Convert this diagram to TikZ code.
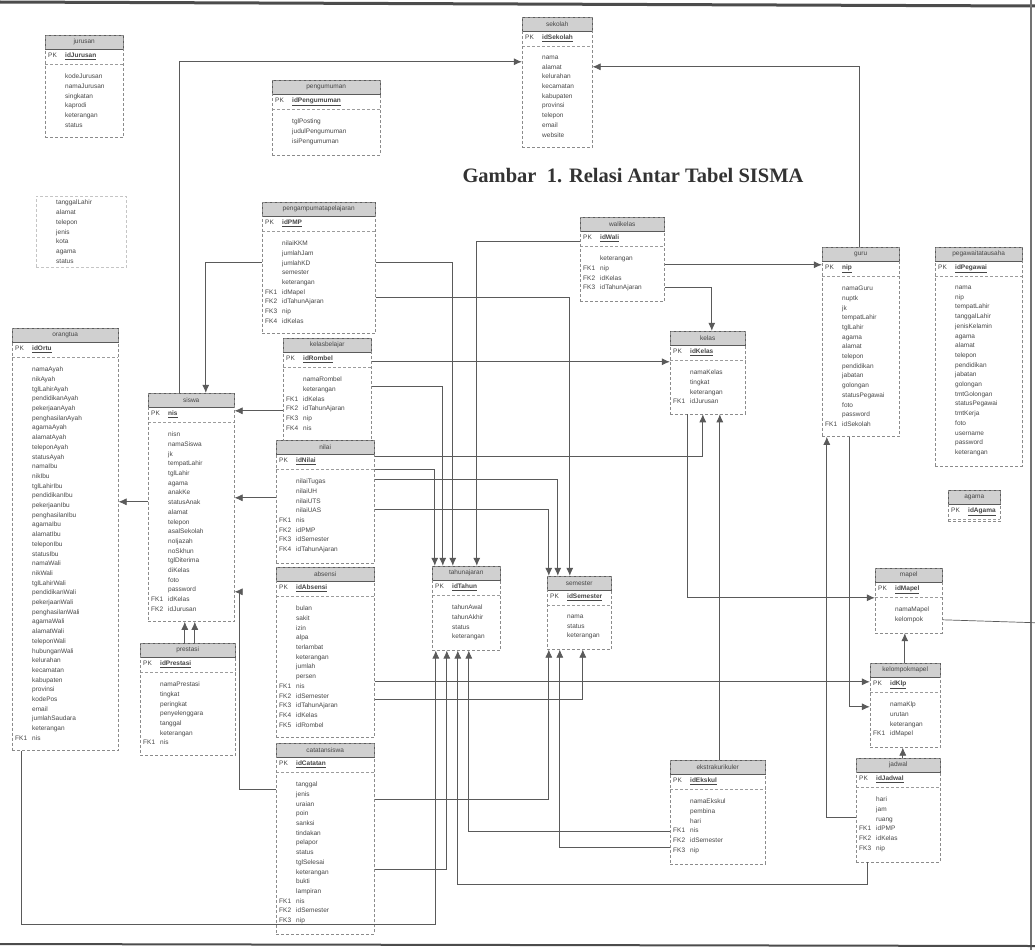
\documentclass[tikz,border=0pt]{standalone}
\usepackage{fontspec}
\setmainfont{Liberation Serif}
\newfontfamily\tabfont{Liberation Sans}
\usetikzlibrary{arrows.meta, positioning, fit, calc}
\definecolor{garis}{RGB}{90,90,90}
\definecolor{kepala}{RGB}{208,208,208}
\definecolor{teks}{RGB}{70,70,70}

\newcommand{\kol}[1]{\makebox[17pt][l]{#1}}
% #1 opsi isi, #2 nama node, #3 pojok kiri atas, #4 lebar, #5 judul, #6 kunci primer, #7 isi
\newcommand{\tabel}[7][]{%
  \pgfmathsetmacro\lbr{#4-6}
  \node[judul, minimum width=#4pt, anchor=north west] (#2) at (#3) {#5};
  \node[kunci, text width=\lbr pt, anchor=north west] (#2-pk) at (#2.south west) {\kol{PK}\underline{\textbf{#6}}};
  \node[isi, text width=\lbr pt, anchor=north west, #1] (#2-isi) at (#2-pk.south west) {#7};
  \draw[pemisah] (#2-pk.south west) -- (#2-pk.south east);
  \node[bingkai, fit=(#2)(#2-pk)(#2-isi)] (#2-box) {};
}

\begin{document}
\begin{tikzpicture}[
    x=1pt, y=-1pt,
    judul/.style={rectangle, draw=garis, fill=kepala, minimum height=14pt, inner sep=1pt, font=\tabfont\fontsize{6.5}{7}\selectfont, text=teks},
    kunci/.style={rectangle, minimum height=14pt, inner sep=3pt, font=\tabfont\fontsize{6.5}{7}\selectfont, text=teks},
    isi/.style={rectangle, inner xsep=3pt, inner ysep=10pt, align=left, font=\tabfont\fontsize{6.5}{9.7}\selectfont, text=teks},
    bingkai/.style={rectangle, draw=garis!70, densely dashed, inner sep=0pt},
    pemisah/.style={draw=garis!60, densely dashed},
    relasi/.style={draw=garis, line width=0.7pt, -{Latex[length=8pt,width=7pt]}},
    polos/.style={draw=garis, line width=0.7pt}
]
\useasboundingbox (0,0) rectangle (1035,950);
\fill[white] (0,0) rectangle (1035,950);
% tepi hasil pindai
\draw[black!70, line width=3pt] (0,2) -- (1035,6);
\draw[black!55, line width=1.5pt] (1031,0) -- (1031,950);
\draw[black!70, line width=2pt] (0,944) -- (1035,946);

% judul gambar
\node[font=\bfseries\fontsize{20.5}{24}\selectfont, text=black!80] (caption) at (633,176) {Gambar \ 1. Relasi Antar Tabel SISMA};

% tabel
\tabel{jurusan}{45,35}{78}{jurusan}{idJurusan}{\kol{}kodeJurusan\\\kol{}namaJurusan\\\kol{}singkatan\\\kol{}kaprodi\\\kol{}keterangan\\\kol{}status}
% sisa kolom yang terpotong
\node[isi, text width=84pt, anchor=north west, inner ysep=4pt] (sambung) at (36,196) {\kol{}tanggalLahir\\\kol{}alamat\\\kol{}telepon\\\kol{}jenis\\\kol{}kota\\\kol{}agama\\\kol{}status};
\node[bingkai, draw=garis!35, fit=(sambung)] (sambung-box) {};
\tabel{sekolah}{522,17}{70}{sekolah}{idSekolah}{\kol{}nama\\\kol{}alamat\\\kol{}kelurahan\\\kol{}kecamatan\\\kol{}kabupaten\\\kol{}provinsi\\\kol{}telepon\\\kol{}email\\\kol{}website}
\tabel{pengumuman}{272,80}{108}{pengumuman}{idPengumuman}{\kol{}tglPosting\\\kol{}judulPengumuman\\\kol{}isiPengumuman}
\tabel{pengampu}{262,202}{113}{pengampumatapelajaran}{idPMP}{\kol{}nilaiKKM\\\kol{}jumlahJam\\\kol{}jumlahKD\\\kol{}semester\\\kol{}keterangan\\\kol{FK1}idMapel\\\kol{FK2}idTahunAjaran\\\kol{FK3}nip\\\kol{FK4}idKelas}
\tabel{rombel}{283,338}{88}{kelasbelajar}{idRombel}{\kol{}namaRombel\\\kol{}keterangan\\\kol{FK1}idKelas\\\kol{FK2}idTahunAjaran\\\kol{FK3}nip\\\kol{FK4}nis}
\tabel{siswa}{148,393}{86}{siswa}{nis}{\kol{}nisn\\\kol{}namaSiswa\\\kol{}jk\\\kol{}tempatLahir\\\kol{}tglLahir\\\kol{}agama\\\kol{}anakKe\\\kol{}statusAnak\\\kol{}alamat\\\kol{}telepon\\\kol{}asalSekolah\\\kol{}noIjazah\\\kol{}noSkhun\\\kol{}tglDiterima\\\kol{}diKelas\\\kol{}foto\\\kol{}password\\\kol{FK1}idKelas\\\kol{FK2}idJurusan}
\tabel{ortu}{12,328}{106}{orangtua}{idOrtu}{\kol{}namaAyah\\\kol{}nikAyah\\\kol{}tglLahirAyah\\\kol{}pendidikanAyah\\\kol{}pekerjaanAyah\\\kol{}penghasilanAyah\\\kol{}agamaAyah\\\kol{}alamatAyah\\\kol{}teleponAyah\\\kol{}statusAyah\\\kol{}namaIbu\\\kol{}nikIbu\\\kol{}tglLahirIbu\\\kol{}pendidikanIbu\\\kol{}pekerjaanIbu\\\kol{}penghasilanIbu\\\kol{}agamaIbu\\\kol{}alamatIbu\\\kol{}teleponIbu\\\kol{}statusIbu\\\kol{}namaWali\\\kol{}nikWali\\\kol{}tglLahirWali\\\kol{}pendidikanWali\\\kol{}pekerjaanWali\\\kol{}penghasilanWali\\\kol{}agamaWali\\\kol{}alamatWali\\\kol{}teleponWali\\\kol{}hubunganWali\\\kol{}kelurahan\\\kol{}kecamatan\\\kol{}kabupaten\\\kol{}provinsi\\\kol{}kodePos\\\kol{}email\\\kol{}jumlahSaudara\\\kol{}keterangan\\\kol{FK1}nis}
\tabel{nilai}{276,440}{98}{nilai}{idNilai}{\kol{}nilaiTugas\\\kol{}nilaiUH\\\kol{}nilaiUTS\\\kol{}nilaiUAS\\\kol{FK1}nis\\\kol{FK2}idPMP\\\kol{FK3}idSemester\\\kol{FK4}idTahunAjaran}
\tabel{absensi}{276,567}{98}{absensi}{idAbsensi}{\kol{}bulan\\\kol{}sakit\\\kol{}izin\\\kol{}alpa\\\kol{}terlambat\\\kol{}keterangan\\\kol{}jumlah\\\kol{}persen\\\kol{FK1}nis\\\kol{FK2}idSemester\\\kol{FK3}idTahunAjaran\\\kol{FK4}idKelas\\\kol{FK5}idRombel}
\tabel{prestasi}{140,643}{95}{prestasi}{idPrestasi}{\kol{}namaPrestasi\\\kol{}tingkat\\\kol{}peringkat\\\kol{}penyelenggara\\\kol{}tanggal\\\kol{}keterangan\\\kol{FK1}nis}
\tabel{catatan}{276,743}{98}{catatansiswa}{idCatatan}{\kol{}tanggal\\\kol{}jenis\\\kol{}uraian\\\kol{}poin\\\kol{}sanksi\\\kol{}tindakan\\\kol{}pelapor\\\kol{}status\\\kol{}tglSelesai\\\kol{}keterangan\\\kol{}bukti\\\kol{}lampiran\\\kol{FK1}nis\\\kol{FK2}idSemester\\\kol{FK3}nip}
\tabel{walikelas}{580,217}{84}{walikelas}{idWali}{\kol{}keterangan\\\kol{FK1}nip\\\kol{FK2}idKelas\\\kol{FK3}idTahunAjaran}
\tabel{tahunajaran}{432,566}{68}{tahunajaran}{idTahun}{\kol{}tahunAwal\\\kol{}tahunAkhir\\\kol{}status\\\kol{}keterangan}
\tabel{semester}{547,576}{64}{semester}{idSemester}{\kol{}nama\\\kol{}status\\\kol{}keterangan}
\tabel{kelas}{670,331}{75}{kelas}{idKelas}{\kol{}namaKelas\\\kol{}tingkat\\\kol{}keterangan\\\kol{FK1}idJurusan}
\tabel{guru}{822,247}{77}{guru}{nip}{\kol{}namaGuru\\\kol{}nuptk\\\kol{}jk\\\kol{}tempatLahir\\\kol{}tglLahir\\\kol{}agama\\\kol{}alamat\\\kol{}telepon\\\kol{}pendidikan\\\kol{}jabatan\\\kol{}golongan\\\kol{}statusPegawai\\\kol{}foto\\\kol{}password\\\kol{FK1}idSekolah}
\tabel{pegawai}{935,247}{87}{pegawaitatausaha}{idPegawai}{\kol{}nama\\\kol{}nip\\\kol{}tempatLahir\\\kol{}tanggalLahir\\\kol{}jenisKelamin\\\kol{}agama\\\kol{}alamat\\\kol{}telepon\\\kol{}pendidikan\\\kol{}jabatan\\\kol{}golongan\\\kol{}tmtGolongan\\\kol{}statusPegawai\\\kol{}tmtKerja\\\kol{}foto\\\kol{}username\\\kol{}password\\\kol{}keterangan}
\tabel[inner ysep=1pt]{agama}{948,490}{52}{agama}{idAgama}{}
\tabel{mapel}{875,568}{67}{mapel}{idMapel}{\kol{}namaMapel\\\kol{}kelompok}
\tabel{kelompok}{870,663}{70}{kelompokmapel}{idKlp}{\kol{}namaKlp\\\kol{}urutan\\\kol{}keterangan\\\kol{FK1}idMapel}
\tabel{jadwal}{856,758}{84}{jadwal}{idJadwal}{\kol{}hari\\\kol{}jam\\\kol{}ruang\\\kol{FK1}idPMP\\\kol{FK2}idKelas\\\kol{FK3}nip}
\tabel{ekskul}{670,760}{95}{ekstrakurikuler}{idEkskul}{\kol{}namaEkskul\\\kol{}pembina\\\kol{}hari\\\kol{FK1}nis\\\kol{FK2}idSemester\\\kol{FK3}nip}

% relasi ke sekolah dan guru
\draw[relasi] ($(siswa-box.north west)+(32,0)$) |- ($(sekolah-box.north west)+(0,45)$);
\draw[relasi] ($(guru-box.north west)+(38,0)$) |- ($(sekolah-box.north east)+(0,50)$);
\draw[relasi] ($(walikelas-box.north east)+(0,48)$) -- ($(guru-box.north west)+(0,18)$);
\draw[relasi] ($(jadwal-box.north west)+(0,60)$) -| ($(guru-box.south west)+(5,0)$);

% relasi ke siswa
\draw[relasi] ($(pengampu-box.north west)+(0,61)$) -| ($(siswa-box.north west)+(58,0)$);
\draw[relasi] ($(rombel-box.north west)+(0,73)$) -- ($(siswa-box.north east)+(0,18)$);
\draw[relasi] ($(nilai-box.north west)+(0,58)$) -- ($(siswa-box.north east)+(0,105)$);
\draw[relasi] ($(catatan-box.north west)+(0,47)$) -- ++(-36,0) |- ($(siswa-box.north east)+(0,199)$);
\draw[relasi] ($(prestasi-box.north west)+(45,0)$) -- ($(siswa-box.south west)+(37,0)$);
\draw[relasi] ($(prestasi-box.north west)+(55,0)$) -- ($(siswa-box.south west)+(47,0)$);
\draw[relasi] ($(siswa-box.north west)+(0,109)$) -- ($(ortu-box.north east)+(0,174)$);

% relasi ke kelas
\draw[relasi] ($(rombel-box.north east)+(0,24)$) -- ($(kelas-box.north west)+(0,31)$);
\draw[relasi] ($(walikelas-box.north east)+(0,71)$) -| ($(kelas-box.north west)+(42,0)$);
\draw[relasi] ($(nilai-box.north east)+(0,17)$) -| ($(kelas-box.south west)+(33,0)$);
\draw[relasi] ($(ekskul-box.north west)+(50,0)$) -- ($(kelas-box.south west)+(50,0)$);

% relasi ke tahun ajaran
\draw[relasi] ($(pengampu-box.north east)+(0,61)$) -| ($(tahunajaran-box.north west)+(21,0)$);
\draw[relasi] ($(rombel-box.north east)+(0,49)$) -| ($(tahunajaran-box.north west)+(11,0)$);
\draw[relasi] ($(walikelas-box.north west)+(0,25)$) -| ($(tahunajaran-box.north west)+(45,0)$);
\draw[relasi] ($(nilai-box.north east)+(0,30)$) -| ($(tahunajaran-box.north west)+(3,0)$);
\draw[relasi] ($(ortu-box.south west)+(10,0)$) -- ++(0,174) -| ($(tahunajaran-box.south west)+(4,0)$);
\draw[relasi] ($(catatan-box.north east)+(0,127)$) -| ($(tahunajaran-box.south west)+(15,0)$);
\draw[relasi] ($(jadwal-box.south west)+(12,0)$) -- ++(0,22) -| ($(tahunajaran-box.south west)+(26,0)$);
\draw[relasi] ($(ekskul-box.north west)+(0,72)$) -| ($(tahunajaran-box.south west)+(37,0)$);

% relasi ke semester
\draw[relasi] ($(pengampu-box.north east)+(0,96)$) -| ($(semester-box.north west)+(23,0)$);
\draw[relasi] ($(nilai-box.north east)+(0,40)$) -| ($(semester-box.north west)+(11,0)$);
\draw[relasi] ($(nilai-box.north east)+(0,70)$) -| ($(semester-box.north west)+(2,0)$);
\draw[relasi] ($(catatan-box.north east)+(0,57)$) -| ($(semester-box.south west)+(2,0)$);
\draw[relasi] ($(ekskul-box.north west)+(0,88)$) -| ($(semester-box.south west)+(13,0)$);
\draw[relasi] ($(absensi-box.north east)+(0,133)$) -| ($(semester-box.south west)+(36,0)$);

% relasi ke mata pelajaran
\draw[relasi] ($(kelas-box.south west)+(18,0)$) |- ($(mapel-box.north west)+(0,30)$);
\draw[relasi] ($(absensi-box.north east)+(0,115)$) -- ($(kelompok-box.north west)+(0,19)$);
\draw[relasi] ($(guru-box.south west)+(28,0)$) |- ($(kelompok-box.north west)+(0,44)$);
\draw[relasi] ($(kelompok-box.north west)+(35,0)$) -- ($(mapel-box.south west)+(30,0)$);
\draw[relasi] ($(jadwal-box.north west)+(47,0)$) -- ($(kelompok-box.south west)+(33,0)$);
\draw[polos] ($(mapel-box.north east)+(0,52)$) -- ++(95,3);
\end{tikzpicture}
\end{document}
